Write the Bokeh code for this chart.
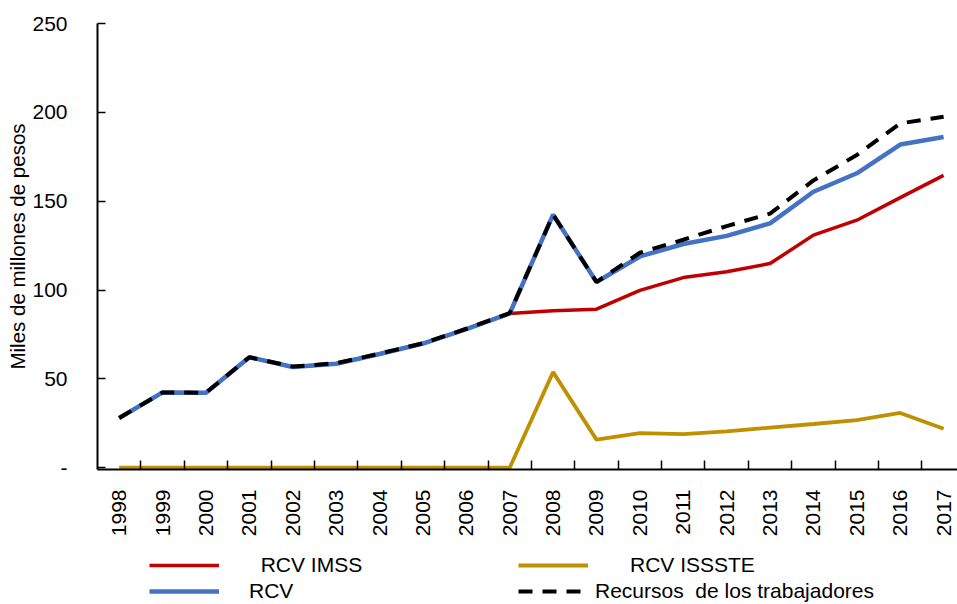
import math
from bokeh.plotting import figure
from bokeh.layouts import column
from bokeh.models import Range1d, FixedTicker, Legend, LegendItem
from bokeh.embed import file_html
from bokeh.resources import INLINE

FONT = "Liberation Sans"
NB = "\u00a0"

years = ["1998", "1999", "2000", "2001", "2002", "2003", "2004", "2005", "2006", "2007",
         "2008", "2009", "2010", "2011", "2012", "2013", "2014", "2015", "2016", "2017"]
rcv_imss = [28.0, 42.4, 42.2, 62.2, 56.7, 58.5, 64.0, 69.9, 78.0, 86.8,
            88.3, 89.2, 99.8, 107.0, 110.3, 114.9, 130.9, 139.3, 152.0, 164.5]
rcv_issste = [0, 0, 0, 0, 0, 0, 0, 0, 0, 0,
              53.8, 15.8, 19.5, 18.9, 20.4, 22.6, 24.6, 26.8, 30.8, 21.9]
rcv = [28.0, 42.4, 42.2, 62.2, 56.7, 58.5, 64.0, 69.9, 78.0, 86.8,
       142.4, 104.5, 118.9, 125.9, 130.5, 137.5, 155.3, 165.7, 181.9, 186.1]
recursos = [28.0, 42.4, 42.2, 62.2, 56.9, 58.8, 64.2, 70.0, 78.2, 87.0,
            142.4, 104.5, 121.0, 128.3, 136.0, 143.0, 161.7, 176.0, 193.8, 197.5]
y_ticks = [0, 50, 100, 150, 200, 250]
y_tick_labels = ["-", "50", "100", "150", "200", "250"]
legend_labels = ["RCV IMSS", "RCV", "RCV ISSSTE", "Recursos  de los trabajadores"]

COLORS = {"imss": "#C00000", "issste": "#BF9000", "rcv": "#4472C4", "rec": "black"}
WIDTHS = {"imss": 3.5, "issste": 3.8, "rcv": 4.5, "rec": 4}
DASH = "14 10"

x = list(range(len(years)))

p = figure(width=957, height=539, output_backend="svg", toolbar_location=None,
           x_range=Range1d(-0.5, 19.32), y_range=Range1d(-1.0, 250),
           min_border_left=97, min_border_right=0, min_border_top=23, min_border_bottom=60)
p.outline_line_color = None
p.grid.visible = False
p.background_fill_color = "white"
p.border_fill_color = "white"

p.line(x, rcv_imss, line_color=COLORS["imss"], line_width=WIDTHS["imss"])
p.line(x, rcv_issste, line_color=COLORS["issste"], line_width=WIDTHS["issste"])
p.line(x, rcv, line_color=COLORS["rcv"], line_width=WIDTHS["rcv"])
p.line(x, recursos, line_color=COLORS["rec"], line_width=WIDTHS["rec"], line_dash=DASH)

# x axis
xa = p.xaxis[0]
xa.ticker = FixedTicker(ticks=x, minor_ticks=[i + 0.5 for i in x])
xa.major_label_overrides = {i: y for i, y in zip(x, years)}
xa.major_tick_line_color = None
xa.minor_tick_in = 9
xa.minor_tick_out = 0
xa.minor_tick_line_color = "black"
xa.minor_tick_line_width = 1.5
xa.axis_line_width = 2
xa.axis_line_color = "black"
xa.major_label_orientation = math.pi / 2
xa.major_label_standoff = 14
xa.major_label_text_font = FONT
xa.major_label_text_font_size = "21px"
xa.major_label_text_color = "black"

# y axis
ya = p.yaxis[0]
ya.ticker = FixedTicker(ticks=y_ticks)
ya.major_label_overrides = {t: l for t, l in zip(y_ticks, y_tick_labels)}
ya.major_tick_in = 8
ya.major_tick_out = 0
ya.major_tick_line_width = 1.5
ya.minor_tick_line_color = None
ya.axis_line_width = 2
ya.axis_line_color = "black"
ya.major_label_standoff = 30
ya.major_label_text_font = FONT
ya.major_label_text_font_size = "21px"
ya.major_label_text_color = "black"
ya.axis_label = "Miles de millones de pesos"
ya.axis_label_text_font = FONT
ya.axis_label_text_font_size = "20.5px"
ya.axis_label_text_font_style = "normal"
ya.axis_label_text_color = "black"
ya.axis_label_standoff = 0

# legend strip (separate figure so the legend is not clipped by the chart frame);
# its series are drawn outside its visible range, only their legend glyphs show
q = figure(width=957, height=65, output_backend="svg", toolbar_location=None,
           x_range=Range1d(-0.5, 19.32), y_range=Range1d(-20, -10),
           x_axis_location=None, y_axis_location=None,
           min_border_left=97, min_border_right=0, min_border_top=0, min_border_bottom=0)
q.outline_line_color = None
q.grid.visible = False

l_imss = q.line(x, rcv_imss, line_color=COLORS["imss"], line_width=WIDTHS["imss"])
l_rcv = q.line(x, rcv, line_color=COLORS["rcv"], line_width=WIDTHS["rcv"])
l_issste = q.line(x, rcv_issste, line_color=COLORS["issste"], line_width=WIDTHS["issste"])
l_rec = q.line(x, recursos, line_color=COLORS["rec"], line_width=WIDTHS["rec"], line_dash=DASH)


def make_legend(rs, labels, pads, lx, standoff):
    items = [LegendItem(label=NB * n + lab, renderers=[r]) for r, lab, n in zip(rs, labels, pads)]
    leg = Legend(items=items, location=(lx, 0), orientation="vertical",
                 padding=0, margin=0, spacing=0, border_line_color=None,
                 background_fill_alpha=0, glyph_width=70, glyph_height=26,
                 label_height=26, label_standoff=standoff,
                 label_text_font=FONT, label_text_font_size="21px",
                 label_text_color="black")
    q.add_layout(leg, "center")


make_legend([l_imss, l_rcv], legend_labels[:2], [2, 0], 52, 30)
make_legend([l_issste, l_rec], legend_labels[2:], [6, 0], 421, 7)

layout = column(p, q, spacing=0)
open("out.html", "w").write(file_html(layout, INLINE))
